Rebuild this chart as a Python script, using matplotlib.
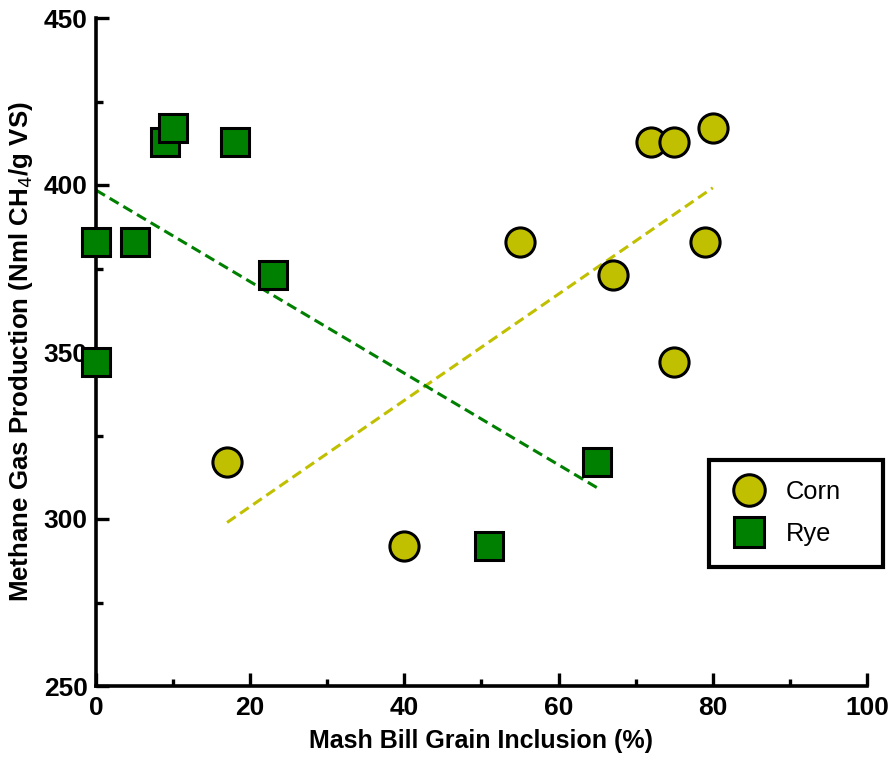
import numpy as np
import matplotlib
matplotlib.use("Agg")
import matplotlib.pyplot as plt
from matplotlib.ticker import MultipleLocator
from matplotlib.patches import Rectangle

plt.rcParams['font.family'] = ['Liberation Sans', 'DejaVu Sans']

# Grain inclusion (%) and methane yield (Nml CH4/g VS)
corn_x = [17, 40, 55, 67, 72, 75, 80, 79, 75]
corn_y = [317, 292, 383, 373, 413, 413, 417, 383, 347]
rye_x = [0, 0, 5, 9, 10, 18, 23, 51, 65]
rye_y = [383, 347, 383, 413, 417, 413, 373, 292, 317]

corn_color = '#C0C000'
rye_color = '#008000'

W, H = 891, 760
fig = plt.figure(figsize=(W / 100, H / 100), dpi=100)
ax = fig.add_axes([96 / W, 74 / H, 771 / W, 668 / H])

# Linear fits drawn over the range of each series
for xs, ys, col in [(corn_x, corn_y, corn_color), (rye_x, rye_y, rye_color)]:
    k, b = np.polyfit(xs, ys, 1)
    xx = np.array([min(xs), max(xs)])
    ax.plot(xx, k * xx + b, color=col, lw=2.2, linestyle=(0, (3.4, 1.8)),
            zorder=2, clip_on=False)

ax.plot(corn_x, corn_y, 'o', ms=21, mfc=corn_color, mec='black', mew=2.2,
        ls='none', label='Corn', zorder=5, clip_on=False)
ax.plot(rye_x, rye_y, 's', ms=20, mfc=rye_color, mec='black', mew=2.2,
        ls='none', label='Rye', zorder=5, clip_on=False)

ax.set_xlim(0, 100)
ax.set_ylim(250, 450)
ax.xaxis.set_major_locator(MultipleLocator(20))
ax.xaxis.set_minor_locator(MultipleLocator(10))
ax.yaxis.set_major_locator(MultipleLocator(50))
ax.yaxis.set_minor_locator(MultipleLocator(25))

for side in ['top', 'right']:
    ax.spines[side].set_visible(False)
for side in ['left', 'bottom']:
    ax.spines[side].set_linewidth(2.6)

ax.tick_params(which='major', direction='in', length=9.5, width=2.4,
               labelsize=19)
ax.tick_params(axis='y', which='major', pad=6)
ax.tick_params(axis='x', which='major', pad=7)
ax.tick_params(which='minor', direction='in', length=5, width=2.4)
for lab in ax.get_xticklabels() + ax.get_yticklabels():
    lab.set_fontweight('bold')

ax.set_xlabel('Mash Bill Grain Inclusion (%)', fontsize=18, fontweight='bold',
              labelpad=7)
ax.set_ylabel('Methane Gas Production (Nml CH$_4$/g VS)', fontsize=18.6,
              fontweight='bold', labelpad=6)

# Legend: framed box reaching past the right end of the x axis
ax.add_patch(Rectangle((709 / W, (H - 567) / H), 174 / W, 107 / H,
                       transform=fig.transFigure, facecolor='white',
                       edgecolor='black', linewidth=3, zorder=9,
                       clip_on=False))
leg = ax.legend(loc='center left', bbox_to_anchor=(728.5 / W, (H - 513) / H),
                bbox_transform=fig.transFigure, frameon=False, fontsize=18.4,
                borderpad=0, handletextpad=0.64, labelspacing=0.72,
                handlelength=1.6, borderaxespad=0, markerscale=1.08)
leg.set_zorder(10)

fig.savefig('out.png', dpi=100)
